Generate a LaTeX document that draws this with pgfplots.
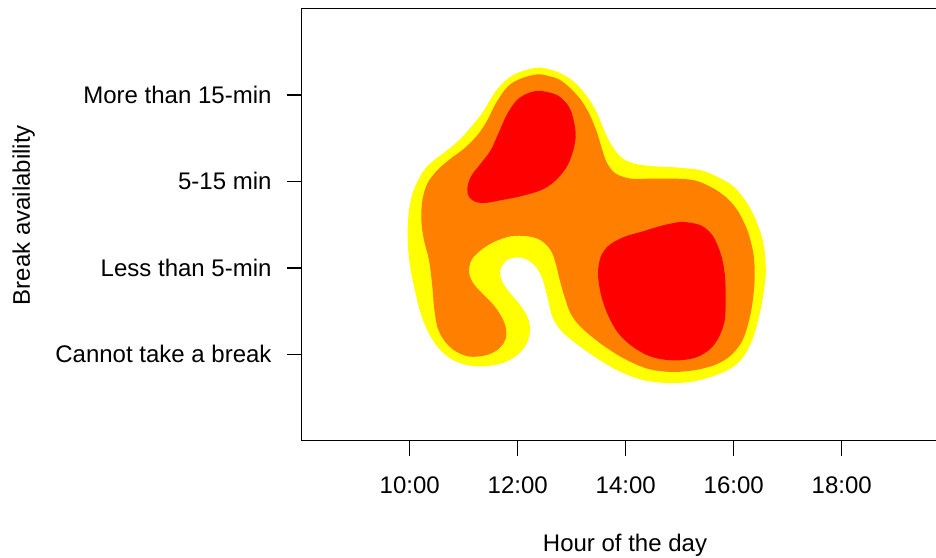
\documentclass[border=0pt]{standalone}
\usepackage{pgfplots}
\pgfplotsset{compat=1.18}
\usepackage{fontspec}
\setmainfont{Liberation Sans}
\definecolor{hy}{HTML}{FFFF00}
\definecolor{ho}{HTML}{FF8000}
\definecolor{hr}{HTML}{FF0000}
\begin{document}
\fontsize{24}{28}\selectfont
\begin{tikzpicture}[x=1pt,y=1pt]
\begin{axis}[
  scale only axis, width=648pt, height=432.2pt,
  xmin=8, xmax=20, ymin=0, ymax=5,
  axis line style={line width=1.5pt, black},
  every tick/.style={black, line width=1.5pt},
  tick align=outside, major tick length=15pt,
  xtick={10,12,14,16,18}, xticklabels={10:00,12:00,14:00,16:00,18:00},
  ytick={1,2,3,4}, yticklabels={Cannot take a break, Less than 5-min, 5-15 min, More than 15-min},
  xtick pos=bottom, ytick pos=left,
  tick label style={font=\fontsize{24}{28}\selectfont, inner sep=0pt},
  xticklabel style={anchor=base, yshift=-37.3pt},
  yticklabel style={anchor=base east, xshift=-15pt, yshift=-8.6pt},
  xlabel={Hour of the day}, ylabel={Break availability},
  label style={font=\fontsize{24}{28}\selectfont, inner sep=0pt},
  every axis x label/.style={at={(axis description cs:0.4989,-0.2552)}, anchor=base},
  every axis y label/.style={at={(axis description cs:-0.429,0.5222)}, rotate=90, anchor=center},
]
\addplot[fill=hy, draw=none, smooth, tension=0.55] coordinates {
(12.395,4.317)(12.735,4.267)(13.043,4.151)(13.290,3.977)(13.475,3.784)(13.599,3.592)
(13.722,3.437)(13.907,3.283)(14.154,3.206)(14.525,3.175)(14.957,3.160)(15.389,3.129)
(15.698,3.052)(16.006,2.936)(16.253,2.743)(16.438,2.512)(16.562,2.242)(16.593,1.933)
(16.531,1.625)(16.438,1.355)(16.315,1.123)(16.130,0.931)(15.883,0.815)(15.574,0.738)
(15.204,0.680)(14.772,0.668)(14.340,0.699)(13.907,0.796)(13.475,0.950)(13.043,1.143)
(12.796,1.278)(12.642,1.432)(12.580,1.586)(12.519,1.740)(12.457,1.875)(12.364,1.991)
(12.241,2.068)(12.086,2.115)(11.932,2.118)(11.796,2.088)(11.704,2.018)(11.673,1.933)
(11.716,1.837)(11.840,1.721)(12.025,1.586)(12.167,1.451)(12.228,1.316)(12.210,1.201)
(12.130,1.085)(11.963,0.977)(11.747,0.904)(11.500,0.869)(11.253,0.861)(11.006,0.884)
(10.759,0.950)(10.543,1.066)(10.358,1.239)(10.204,1.470)(10.111,1.702)(10.019,1.972)
(9.969,2.242)(9.969,2.550)(10.019,2.782)(10.111,2.955)(10.265,3.129)(10.451,3.245)
(10.698,3.360)(10.944,3.495)(11.191,3.669)(11.377,3.823)(11.562,4.016)(11.747,4.151)
(11.994,4.255)(12.395,4.317)(12.735,4.267)
};
\addplot[fill=ho, draw=none, smooth, tension=0.55] coordinates {
(12.395,4.239)(12.735,4.189)(12.981,4.074)(13.198,3.919)(13.352,3.746)(13.475,3.553)
(13.568,3.360)(13.660,3.206)(13.815,3.090)(14.093,3.032)(14.463,3.032)(14.895,3.032)
(15.265,3.013)(15.574,2.936)(15.852,2.820)(16.068,2.666)(16.253,2.435)(16.364,2.165)
(16.389,1.895)(16.346,1.586)(16.253,1.316)(16.130,1.123)(15.914,0.969)(15.636,0.873)
(15.265,0.815)(14.833,0.796)(14.401,0.834)(13.969,0.950)(13.537,1.123)(13.167,1.316)
(12.981,1.470)(12.889,1.625)(12.796,1.818)(12.704,2.049)(12.611,2.203)(12.426,2.319)
(12.179,2.365)(11.870,2.365)(11.562,2.300)(11.315,2.203)(11.142,2.088)(11.099,1.953)
(11.160,1.837)(11.315,1.721)(11.531,1.586)(11.685,1.451)(11.778,1.316)(11.778,1.181)
(11.685,1.085)(11.531,1.015)(11.315,0.977)(11.068,0.977)(10.821,1.046)(10.636,1.162)
(10.512,1.316)(10.451,1.548)(10.420,1.779)(10.358,2.088)(10.265,2.319)(10.216,2.550)
(10.235,2.782)(10.327,2.975)(10.512,3.129)(10.759,3.264)(11.006,3.379)(11.253,3.534)
(11.438,3.707)(11.593,3.900)(11.809,4.093)(12.056,4.189)(12.395,4.239)(12.735,4.189)
};
\addplot[fill=hr, draw=none, smooth, tension=0.55] coordinates {
(12.426,4.047)(12.735,3.997)(12.951,3.862)(13.043,3.688)(13.074,3.514)(13.012,3.322)
(12.889,3.148)(12.673,2.994)(12.426,2.897)(12.056,2.828)(11.685,2.782)(11.407,2.751)
(11.222,2.762)(11.099,2.820)(11.068,2.917)(11.130,3.052)(11.315,3.206)(11.500,3.360)
(11.654,3.572)(11.809,3.784)(11.994,3.946)(12.210,4.024)(12.426,4.047)(12.735,3.997)
};
\addplot[fill=hr, draw=none, smooth, tension=0.55] coordinates {
(15.080,2.531)(15.389,2.492)(15.605,2.377)(15.759,2.165)(15.833,1.933)(15.852,1.663)
(15.833,1.393)(15.728,1.201)(15.574,1.066)(15.327,0.969)(15.019,0.931)(14.710,0.938)
(14.401,0.988)(14.093,1.104)(13.846,1.258)(13.660,1.470)(13.537,1.702)(13.488,1.933)
(13.537,2.126)(13.691,2.261)(13.969,2.357)(14.278,2.415)(14.586,2.473)(14.833,2.512)
(15.080,2.531)(15.389,2.492)
};
\end{axis}
\pgfresetboundingbox
\path[use as bounding box] (-301.7,-116.3) rectangle (634.3,440.7);
\end{tikzpicture}
\end{document}
